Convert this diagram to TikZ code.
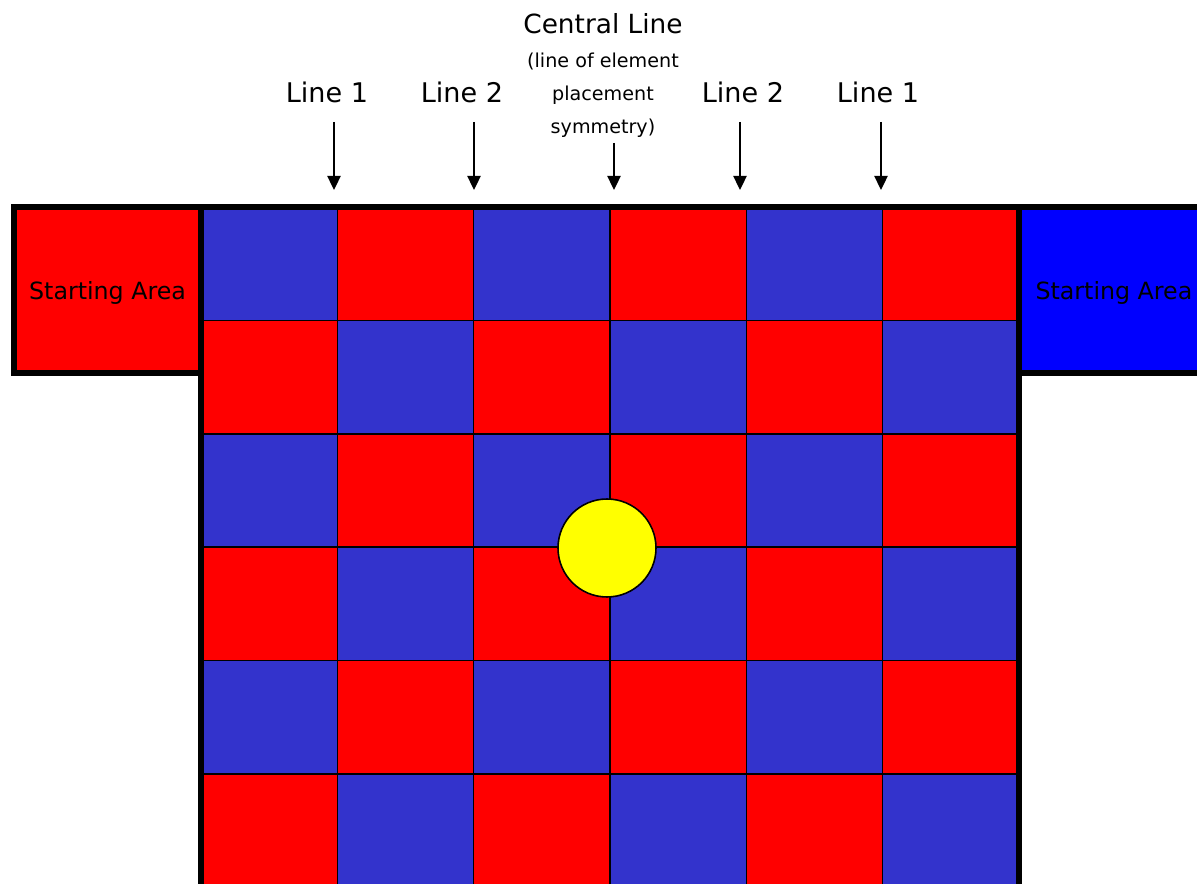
\documentclass[tikz,border=0pt]{standalone}
\usepackage{fontspec}
\setmainfont{DejaVu Sans}
\usetikzlibrary{arrows.meta, positioning}

\definecolor{fieldred}{HTML}{FF0000}
\definecolor{fieldblue}{HTML}{3333CC}
\definecolor{startblue}{HTML}{0000FF}
\definecolor{ballyellow}{HTML}{FFFF00}

\begin{document}
\begin{tikzpicture}[x=0.02cm, y=-0.02cm,
    cell/.style={draw, line width=0.8pt, minimum width=2.7267cm, minimum height=2.268cm, inner sep=0pt, outer sep=0pt},
    startarea/.style={draw, line width=3.4pt, inner sep=0pt, outer sep=0pt, minimum height=3.33cm, text depth=0pt, font=\fontsize{13.5}{16}\selectfont},
    linelabel/.style={font=\fontsize{15.4}{18}\selectfont},
    pointer/.style={-{Triangle[width=7.5pt,length=8pt]}, line width=1.1pt}]
  \clip (0,0) rectangle (1197,884);

  % checkered field
  \foreach \r in {0,...,5}
    \foreach \c in {0,...,5} {
      \pgfmathtruncatemacro\parity{mod(\r+\c,2)}
      \ifnum\parity=0 \def\cellcol{fieldblue}\else \def\cellcol{fieldred}\fi
      \node[cell, fill=\cellcol] (cell-\r-\c) at ({201+136.33*(\c+0.5)}, {207+113.4*(\r+0.5)}) {};
    }
  \draw[line width=3.4pt] (cell-5-0.south west) -- (cell-0-0.north west)
    -- (cell-0-5.north east) -- (cell-5-5.south east);

  % starting areas
  \node[startarea, fill=fieldred, minimum width=3.74cm, anchor=north east] (startL) at (cell-0-0.north west) {Starting Area};
  \node[startarea, fill=startblue, minimum width=3.8cm, anchor=north west] (startR) at (cell-0-5.north east) {Starting Area};

  % ball
  \node[circle, draw, line width=0.9pt, fill=ballyellow, minimum size=1.96cm] (ball) at (607,548) {};

  % lines
  \foreach \name/\lx/\ax/\txt in {l1a/327/334/Line 1, l2a/462/474/Line 2, l2b/743/740/Line 2, l1b/878/881/Line 1} {
    \node[linelabel] (\name) at (\lx,92) {\txt};
    \coordinate (from-\name) at (\ax,122);
    \coordinate (to-\name) at (\ax,190);
    \draw[pointer] (from-\name) -- (to-\name);
  }
  \node[font=\fontsize{15}{18}\selectfont] (central) at (603,24) {Central Line};
  \node[font=\fontsize{10.9}{19}\selectfont, align=center, below=0.12cm of central] (centralnote) {(line of element\\placement\\symmetry)};
  \coordinate (from-central) at (614,143);
  \coordinate (to-central) at (614,190);
  \draw[pointer] (from-central) -- (to-central);
\end{tikzpicture}
\end{document}
